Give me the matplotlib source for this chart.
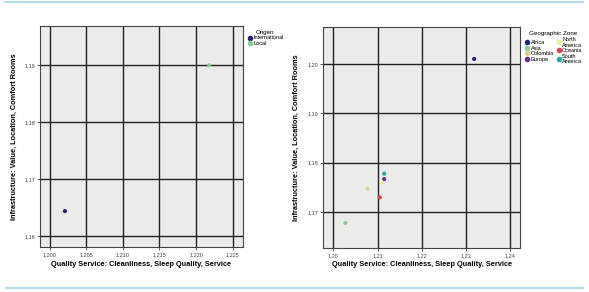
import matplotlib
matplotlib.use('Agg')
import matplotlib.pyplot as plt
from matplotlib.ticker import FuncFormatter
from matplotlib.lines import Line2D

plt.rcParams['font.family'] = ['Liberation Sans', 'DejaVu Sans']

# left chart: origin
origin_names = ['International', 'Local']
origin_x = [1.2021, 1.2218]
origin_y = [1.1644, 1.1900]
origin_colors = ['#22226e', '#82cf95']

# right chart: geographic zone
zone_names = ['Africa', 'Asia', 'Colombia', 'Europe',
              'North America', 'Oceania', 'South America']
zone_x = [1.2319, 1.2027, 1.2077, 1.2115, 1.2110, 1.2105, 1.2115]
zone_y = [1.2010, 1.1678, 1.1748, 1.1767, 1.1760, 1.1730, 1.1778]
zone_labels = ['Africa', 'Asia', 'Colombia', 'Europe',
               'North\nAmerica', 'Oceania', 'South\nAmerica']
zone_colors = ['#25247a', '#86cf97', '#d8d394', '#6b2f8c',
               '#eef09c', '#e2424f', '#2aa9a8']

left_xticks = [1.200, 1.205, 1.210, 1.215, 1.220, 1.225]
left_yticks = [1.16, 1.17, 1.18, 1.19]
right_xticks = [1.20, 1.21, 1.22, 1.23, 1.24]
right_yticks = [1.17, 1.18, 1.19, 1.20]

xlabel = 'Quality Service: Cleanliness, Sleep Quality, Service'
ylabel = 'Infrastructure: Value, Location, Comfort Rooms'

fig = plt.figure(figsize=(5.89, 2.92), dpi=100)
fig.patch.set_facecolor('white')


def comma(decimals):
    return FuncFormatter(lambda v, _: ('{:.%df}' % decimals).format(v).replace('.', ','))


def style_axes(ax, xticks, yticks, xdec, ydec, xlab_y, ylab_x):
    ax.set_facecolor('#ebebe9')
    ax.set_xticks(xticks)
    ax.set_yticks(yticks)
    ax.xaxis.set_major_formatter(comma(xdec))
    ax.yaxis.set_major_formatter(comma(ydec))
    ax.grid(True, color='#222222', linewidth=1.0)
    ax.set_axisbelow(True)
    ax.tick_params(labelsize=4, length=2, width=0.6, colors='#444444', pad=1.5)
    for s in ax.spines.values():
        s.set_color('#444444')
        s.set_linewidth(0.8)
    ax.set_xlabel(xlabel, fontsize=5.3, fontweight='bold')
    ax.set_ylabel(ylabel, fontsize=5.3, fontweight='bold')
    ax.xaxis.set_label_coords(0.5, xlab_y)
    ax.yaxis.set_label_coords(ylab_x, 0.5)


ax1 = fig.add_axes([40 / 589, 45 / 292, 203 / 589, 221 / 292])
for n, x, y, c in zip(origin_names, origin_x, origin_y, origin_colors):
    ax1.scatter([x], [y], s=9, color=c, edgecolors='none', zorder=3)
ax1.set_xlim(1.1987, 1.2264)
ax1.set_ylim(1.1581, 1.1969)
style_axes(ax1, left_xticks, left_yticks, 3, 2, -0.063, -0.108)
h1 = [Line2D([], [], marker='o', linestyle='', markersize=4, color=c,
             markeredgewidth=0) for c in origin_colors]
ax1.legend(h1, origin_names, title='Origen', loc='upper left',
           bbox_to_anchor=(1.0, 1.0), frameon=False, fontsize=4,
           title_fontsize=4.5, handletextpad=0.0, labelspacing=0.1,
           borderaxespad=0.3, handlelength=1.2)

ax2 = fig.add_axes([323.3 / 589, 43.7 / 292, 196.7 / 589, 221 / 292])
for n, x, y, c in zip(zone_names, zone_x, zone_y, zone_colors):
    ax2.scatter([x], [y], s=9, color=c, edgecolors='none', zorder=3)
ax2.set_xlim(1.1977, 1.2423)
ax2.set_ylim(1.1627, 1.2074)
style_axes(ax2, right_xticks, right_yticks, 2, 2, -0.057, -0.118)
h2 = [Line2D([], [], marker='o', linestyle='', markersize=4, color=c,
             markeredgewidth=0) for c in zone_colors]
h2 = h2 + [Line2D([], [], linestyle='')]
l2 = zone_labels + ['']
ax2.legend(h2, l2, title='Geographic Zone', loc='upper left',
           bbox_to_anchor=(1.0, 1.0), frameon=False, fontsize=4,
           title_fontsize=4.5, ncol=2, handletextpad=0.0, labelspacing=0.1,
           columnspacing=0.3, borderaxespad=0.3, handlelength=1.2)

# light blue rules at top and bottom
fig.add_artist(Line2D([5 / 589, 583 / 589], [1 - 1.5 / 292] * 2,
                      color='#9fd4ea', linewidth=1.2))
fig.add_artist(Line2D([6 / 589, 583 / 589], [1 - 287.7 / 292] * 2,
                      color='#9fd4ea', linewidth=1.2))

fig.savefig('out.png', dpi=100)
